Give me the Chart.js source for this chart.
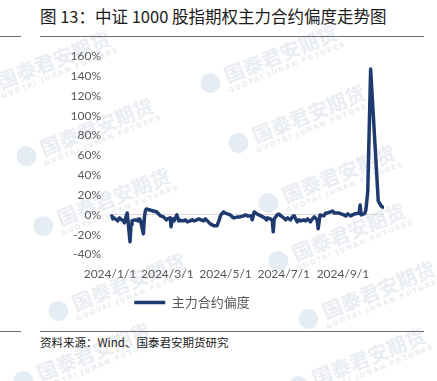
<!DOCTYPE html>
<html lang="zh">
  <head>
    <meta charset="UTF-8" />
    <title>中证1000股指期权主力合约偏度走势图</title>
    <script src="https://cdn.jsdelivr.net/npm/chart.js@4.4.1/dist/chart.umd.min.js"></script>
    <style>
      body { margin: 0; width: 437px; height: 381px; background: #fff; position: relative; overflow: hidden; }
      #title { position: absolute; left: 40px; top: 4px; font: 16.5px "Noto Sans CJK SC", sans-serif; color: #1a1a1a; white-space: nowrap; }
      .rule { position: absolute; height: 1px; background: #6e6e6e; }
      #note { position: absolute; left: 40px; top: 334px; font: 11.5px "Noto Sans CJK SC", sans-serif; color: #1a1a1a; white-space: nowrap; }
      #wrap { position: absolute; left: 0; top: 40px; width: 437px; height: 285px; }
      .wm { position: absolute; transform: translate(-50%, -50%) rotate(-22deg); white-space: nowrap; color: #eaedf2; font: bold 20px "Noto Sans CJK SC", sans-serif; line-height: 20px; }
      .wm small { display: block; font: bold 7px "DejaVu Sans", sans-serif; letter-spacing: 1.5px; margin-left: 24px; }
      .wm i { display: inline-block; width: 20px; height: 20px; border-radius: 50%; background: #e5ecf4; margin-right: 6px; vertical-align: -3px; }
    </style>
  </head>
  <body>
    <div id="marks"></div>
    <div id="title">图 13：中证 1000 股指期权主力合约偏度走势图</div>
    <div class="rule" style="left:0;width:21px;top:36px"></div>
    <div class="rule" style="left:40px;width:384px;top:36px"></div>
    <div id="wrap"><canvas id="myChart"></canvas></div>
    <div class="rule" style="left:0;width:21px;top:331px"></div>
    <div class="rule" style="left:40px;width:384px;top:331px"></div>
    <div id="note">资料来源：Wind、国泰君安期货研究</div>

    <script>
      // trading dates (2024, MM-DD) and skew of the main contract, in %
      var dates = [
        "01-02","01-03","01-04","01-05","01-08","01-09","01-10","01-11","01-12","01-15",
        "01-16","01-17","01-18","01-19","01-22","01-23","01-24","01-25","01-26","01-29",
        "01-30","01-31","02-01","02-02","02-05","02-06","02-07","02-08","02-19","02-20",
        "02-21","02-22","02-23","02-26","02-27","02-28","02-29","03-01","03-04","03-05",
        "03-06","03-07","03-08","03-11","03-12","03-13","03-14","03-15","03-18","03-20",
        "03-22","03-25","03-27","03-29","04-01","04-03","04-08","04-10","04-12","04-15",
        "04-17","04-19","04-22","04-24","04-26","04-29","04-30","05-06","05-08","05-10",
        "05-14","05-16","05-20","05-22","05-24","05-28","05-29","05-31","06-03","06-05",
        "06-07","06-11","06-13","06-14","06-17","06-19","06-20","06-21","06-24","06-26",
        "06-28","07-01","07-03","07-05","07-08","07-10","07-12","07-15","07-17","07-19",
        "07-22","07-24","07-26","07-29","07-31","08-02","08-05","08-06","08-08","08-12",
        "08-14","08-16","08-19","08-21","08-23","08-26","08-28","08-30","09-02","09-04",
        "09-06","09-09","09-11","09-13","09-18","09-19","09-20","09-23","09-24","09-25",
        "09-26","09-27","09-30","10-08","10-09","10-10","10-11","10-14"
      ];
      var skew = [
        -2, -1, -4, -3, -5, -6, -4, -3, -4, -6,
        -8, -5, -1, 2, -27, -10, -6, -6, -5, -5,
        -6, -4, -4, -6, -19, -3, 4, 6, 3, 2,
        1, 0, -1, -2, -3, -4, -5, -4, -3, -12,
        -5, -4, -6, 0, -3, -6, -5, -6, -6, -5,
        -7, -6, -5, -6, -5, -4, -6, -4, -6, -9,
        -10, -11, -11, -6, 0, 3, 2, 0, -2, -3,
        -2, -2, -1, 0, -1, -1, -5, 3, 1, 0,
        -1, -3, -5, -3, -4, -6, -17, -4, 0, 1,
        -1, -3, -5, -3, -5, -2, -1, -7, -5, -6,
        -5, -6, -4, -7, -4, -2, -5, -14, 0, -1,
        2, 2, 3, 4, 2, 2, 2, 1, 0, -1,
        1, -1, 0, 1, 2, 10, 0, 1, 2, 5,
        14, 24, 147, 14, 12, 11, 9, 7
      ];
      var tickDays = [0, 60, 121, 182, 244];
      var tickLabels = ["2024/1/1", "2024/3/1", "2024/5/1", "2024/7/1", "2024/9/1"];

      // faint company watermarks behind the chart
      var markSpots = [[45, 68], [272, 62], [88, 135], [300, 122], [105, 205], [330, 182],
                       [340, 240], [120, 290], [370, 298], [85, 360], [360, 365]];
      markSpots.forEach(function (p) {
        var d = document.createElement("div");
        d.className = "wm";
        d.style.left = p[0] + "px";
        d.style.top = p[1] + "px";
        d.innerHTML = "<i></i>国泰君安期货<small>GUOTAI JUNAN FUTURES</small>";
        document.getElementById("marks").appendChild(d);
      });

      function dayOfYear(md) {
        var p = md.split("-");
        return Math.round((Date.UTC(2024, +p[0] - 1, +p[1]) - Date.UTC(2024, 0, 1)) / 86400000);
      }

      var points = dates.map(function (d, i) {
        return { x: dayOfYear(d), y: skew[i] };
      });

      var lbl = { family: "Lato, 'Noto Sans CJK SC', sans-serif", size: 12 };

      new Chart(document.getElementById("myChart"), {
        type: "line",
        data: {
          datasets: [
            {
              label: "主力合约偏度",
              data: points,
              borderColor: "#1f3a6e",
              backgroundColor: "#1f3a6e",
              borderWidth: 3.5,
              pointRadius: 0,
              tension: 0,
              borderJoinStyle: "round",
            },
          ],
        },
        options: {
          responsive: true,
          maintainAspectRatio: false,
          animation: false,
          layout: { padding: { top: 12, right: 53, bottom: 6, left: 0 } },
          plugins: {
            tooltip: { enabled: false },
            legend: {
              position: "bottom",
              labels: {
                usePointStyle: true,
                pointStyle: "line",
                pointStyleWidth: 31,
                color: "#595959",
                font: { family: "'Noto Sans CJK SC', sans-serif", size: 13 },
                padding: 11,
              },
            },
          },
          scales: {
            x: {
              type: "linear",
              min: 0,
              max: 287,
              border: { display: false },
              grid: { display: false },
              afterBuildTicks: function (scale) {
                scale.ticks = tickDays.map(function (v) { return { value: v }; });
              },
              ticks: {
                autoSkip: false,
                maxRotation: 0,
                padding: 4,
                color: "#595959",
                font: lbl,
                callback: function (v, i) { return tickLabels[i]; },
              },
            },
            y: {
              min: -40,
              max: 160,
              border: { display: false },
              afterFit: function (scale) { scale.width = 110; },
              grid: {
                drawTicks: false,
                color: function (c) { return c.tick && c.tick.value === 0 ? "#d9d9d9" : "rgba(0,0,0,0)"; },
              },
              ticks: {
                stepSize: 20,
                padding: 9,
                color: "#595959",
                font: lbl,
                callback: function (v) { return v + "%"; },
              },
            },
          },
        },
      });
    </script>
  </body>
</html>
